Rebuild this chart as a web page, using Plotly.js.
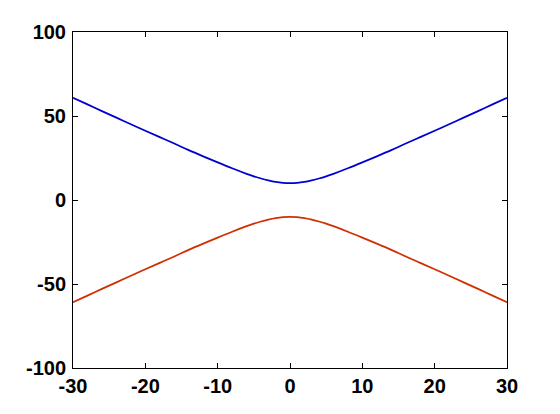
<!DOCTYPE html>
<html><head><meta charset="utf-8">
<script src="https://cdn.plot.ly/plotly-3.0.1.min.js"></script>
<style>html,body{margin:0;padding:0;background:#fff}#chart{width:560px;height:414px}</style>
</head><body><div id="chart"></div>
<script>
const xValues = [-30,-28,-26,-24,-22,-20,-18,-16,-14,-12,-10,-8,-6,-5,-4,-3,-2,-1,0,1,2,3,4,5,6,8,10,12,14,16,18,20,22,24,26,28,30];
const upperValues = [60.8,56.9,52.9,49.0,45.1,41.2,37.4,33.6,29.7,26.0,22.4,18.9,15.6,14.1,12.8,11.7,10.8,10.2,10.0,10.2,10.8,11.7,12.8,14.1,15.6,18.9,22.4,26.0,29.7,33.6,37.4,41.2,45.1,49.0,52.9,56.9,60.8];
const lowerValues = [-60.8,-56.9,-52.9,-49.0,-45.1,-41.2,-37.4,-33.6,-29.7,-26.0,-22.4,-18.9,-15.6,-14.1,-12.8,-11.7,-10.8,-10.2,-10.0,-10.2,-10.8,-11.7,-12.8,-14.1,-15.6,-18.9,-22.4,-26.0,-29.7,-33.6,-37.4,-41.2,-45.1,-49.0,-52.9,-56.9,-60.8];
const xTicks = [-30,-20,-10,0,10,20,30];
const yTicks = [-100,-50,0,50,100];

const traces = [
  {x: xValues, y: upperValues, mode: 'lines', line: {color: '#0000d0', width: 1.8, shape: 'spline'}, hoverinfo: 'none'},
  {x: xValues, y: lowerValues, mode: 'lines', line: {color: '#d03000', width: 1.8, shape: 'spline'}, hoverinfo: 'none'}
];
const axisCommon = {
  showgrid: false, zeroline: false, showline: true, mirror: 'ticks',
  linecolor: '#000', linewidth: 1, ticks: 'inside', ticklen: 5, tickcolor: '#000',
  tickfont: {family: 'Liberation Sans, Arial, sans-serif', size: 20, color: '#000', weight: 'bold'}
};
const layout = {
  width: 560, height: 414,
  margin: {l: 73, r: 53, t: 32, b: 46},
  paper_bgcolor: '#fff', plot_bgcolor: '#fff',
  showlegend: false,
  xaxis: Object.assign({}, axisCommon, {range: [-30, 30], tickvals: xTicks, ticktext: xTicks.map(String), ticklabelstandoff: 0}),
  yaxis: Object.assign({}, axisCommon, {range: [-100, 100], tickvals: yTicks, ticktext: yTicks.map(String), ticklabelstandoff: 2})
};
Plotly.newPlot('chart', traces, layout, {staticPlot: true});
</script></body></html>
